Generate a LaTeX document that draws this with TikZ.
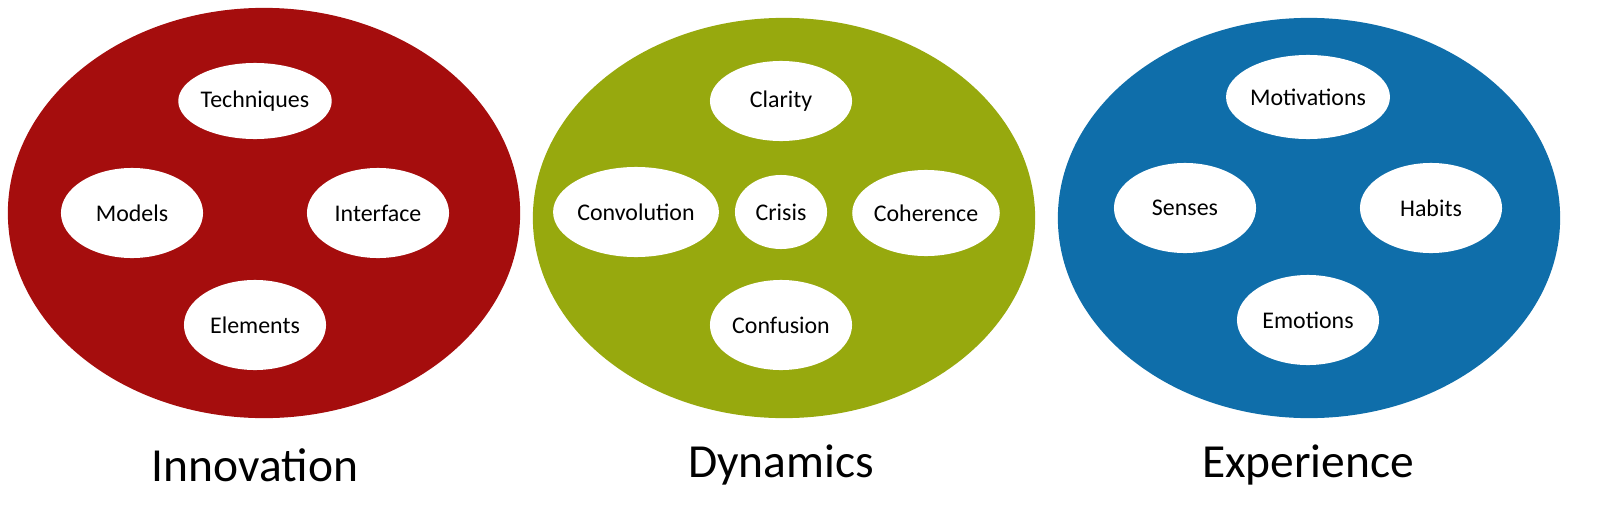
\documentclass[tikz,border=0pt]{standalone}
\usepackage{fontspec}
\setmainfont{Carlito}
\usetikzlibrary{shapes.geometric}
\definecolor{innored}{HTML}{A50D0D}
\definecolor{dynagreen}{HTML}{97A90E}
\definecolor{expblue}{HTML}{0F6EAA}
\begin{document}
\begin{tikzpicture}[x=0.01cm, y=-0.01cm,
  big/.style={ellipse, draw=none, inner sep=0pt},
  s/.style={ellipse, fill=white, draw=none, inner sep=0pt, minimum width=1.42cm, minimum height=0.9cm, font=\fontsize{6.8pt}{8pt}\selectfont},
  title/.style={font=\fontsize{13.5pt}{16pt}\selectfont}]
		\useasboundingbox (0,0) rectangle (1624,512);
		\node[big, fill=innored, minimum width=5.12cm, minimum height=4.1cm] (I) at (264,213) {};
		\node[big, fill=dynagreen, minimum width=5.02cm, minimum height=4cm] (D) at (784,218) {};
		\node[big, fill=expblue, minimum width=5.02cm, minimum height=4cm] (X) at (1309,218) {};

		\node[s, minimum height=0.76cm] (Tech) at (255,101) {Techniques};
		\node[s] (Mod) at (132,213) {Models};
		\node[s] (Int) at (378,213) {Interface};
		\node[s] (Ele) at (255,325) {Elements};

		\node[s, minimum height=0.8cm] (Cla) at (781,101) {Clarity};
		\node[s] (Conv) at (636,212) {Convolution};
		\node[s, minimum width=0.92cm, minimum height=0.74cm] (Cri) at (781,212) {Crisis};
		\node[s, minimum height=0.86cm] (Coh) at (926,213) {Coherence};
		\node[s] (Conf) at (781,325) {Confusion};

		\node[s, minimum height=0.84cm] (Mot) at (1308,97) {Motivations};
		\node[s] (Sen) at (1185,208) {Senses};
		\node[s] (Hab) at (1431,208) {Habits};
		\node[s] (Emo) at (1308,320) {Emotions};

		\node[title] (I_label) at (255,465) {Innovation};
		\node[title] (D_label) at (781,465) {Dynamics};
		\node[title] (X_label) at (1308,465) {Experience};
	\end{tikzpicture}
\end{document}
